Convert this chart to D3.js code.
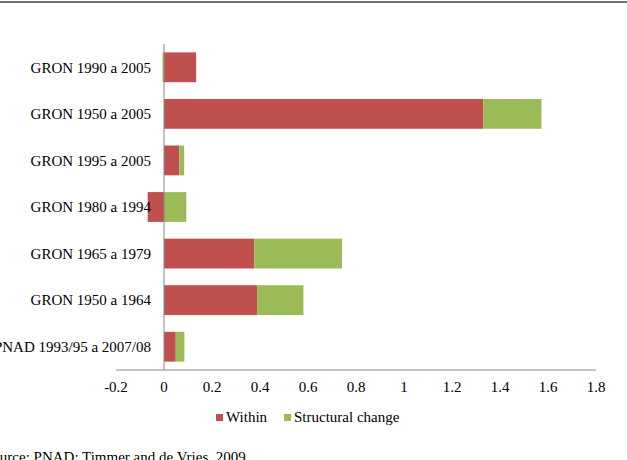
<!DOCTYPE html>
<html>
<head>
<meta charset="utf-8">
<script src="https://cdn.jsdelivr.net/npm/d3@7"></script>
<style>
  body { margin: 0; background: #fff; }
</style>
</head>
<body>
<div id="chart"></div>
<script>
// categories, top to bottom as drawn
var categories = [
  'GRON 1990 a 2005',
  'GRON 1950 a 2005',
  'GRON 1995 a 2005',
  'GRON 1980 a 1994',
  'GRON 1965 a 1979',
  'GRON 1950 a 1964',
  'PNAD 1993/95 a 2007/08'
];
var withinValues = [0.134, 1.33, 0.064, -0.068, 0.376, 0.388, 0.049];
var structuralValues = [-0.006, 0.243, 0.02, 0.093, 0.366, 0.193, 0.036];
var seriesNames = ['Within', 'Structural change'];
var seriesColors = ['#C0504D', '#9BBB59'];
var xTicks = ['-0.2', '0', '0.2', '0.4', '0.6', '0.8', '1', '1.2', '1.4', '1.6', '1.8'];

var width = 627, height = 460;
var font = '"Liberation Serif"';
var fontSize = '15px';
var svg = d3.select('#chart').append('svg')
    .attr('width', width)
    .attr('height', height)
    .attr('font-family', font);

// top rule
svg.append('line')
    .attr('x1', 0).attr('x2', width)
    .attr('y1', 2).attr('y2', 2)
    .attr('stroke', '#444').attr('stroke-width', 1.5);

var x = d3.scaleLinear().domain([-0.2, 1.8]).range([116, 596]);
var y = d3.scaleBand().domain(categories).range([44, 370])
    .paddingInner(0.36).paddingOuter(0.18);

var rows = categories.map(function (c, i) {
  return { cat: c, within: withinValues[i], structural: structuralValues[i] };
});
var stack = d3.stack().keys(['within', 'structural']).offset(d3.stackOffsetDiverging);
var layers = stack(rows);

svg.selectAll('g.layer')
  .data(layers)
  .enter().append('g')
    .attr('class', 'layer')
    .attr('fill', function (d, i) { return seriesColors[i]; })
  .selectAll('rect')
  .data(function (d) { return d; })
  .enter().append('rect')
    .attr('x', function (d) { return x(Math.min(d[0], d[1])); })
    .attr('width', function (d) { return Math.abs(x(d[1]) - x(d[0])); })
    .attr('y', function (d) { return y(d.data.cat); })
    .attr('height', y.bandwidth());

// zero line (category axis)
svg.append('line')
    .attr('x1', x(0)).attr('x2', x(0))
    .attr('y1', 44).attr('y2', 370)
    .attr('stroke', '#868686').attr('stroke-width', 1);

// value axis line
svg.append('line')
    .attr('x1', x(-0.2)).attr('x2', x(1.8))
    .attr('y1', 370).attr('y2', 370)
    .attr('stroke', '#868686').attr('stroke-width', 1);

// tick labels
svg.selectAll('text.xtick')
  .data(xTicks)
  .enter().append('text')
    .attr('class', 'xtick')
    .attr('x', function (d) { return x(+d); })
    .attr('y', 392)
    .attr('text-anchor', 'middle')
    .attr('font-family', font)
    .attr('font-size', fontSize)
    .attr('fill', '#000')
    .text(function (d) { return d; });

// category labels (drawn over bars)
svg.selectAll('text.cat')
  .data(categories)
  .enter().append('text')
    .attr('class', 'cat')
    .attr('x', 151)
    .attr('y', function (d) { return y(d) + y.bandwidth() / 2; })
    .attr('dy', '0.35em')
    .attr('text-anchor', 'end')
    .attr('font-family', font)
    .attr('font-size', fontSize)
    .attr('fill', '#000')
    .text(function (d) { return d; });

// legend
var legendX = [216, 284];
seriesNames.forEach(function (name, i) {
  svg.append('rect')
      .attr('x', legendX[i]).attr('y', 414)
      .attr('width', 7).attr('height', 7)
      .attr('fill', seriesColors[i]);
  svg.append('text')
      .attr('x', legendX[i] + 10).attr('y', 422)
      .attr('font-family', font)
      .attr('font-size', fontSize)
      .text(name);
});

// source note (clipped at the left edge like the original)
svg.append('text')
    .attr('x', -16).attr('y', 462)
    .attr('font-family', font)
    .attr('font-size', fontSize)
    .text('Source: PNAD; Timmer and de Vries, 2009');
</script>
</body>
</html>
